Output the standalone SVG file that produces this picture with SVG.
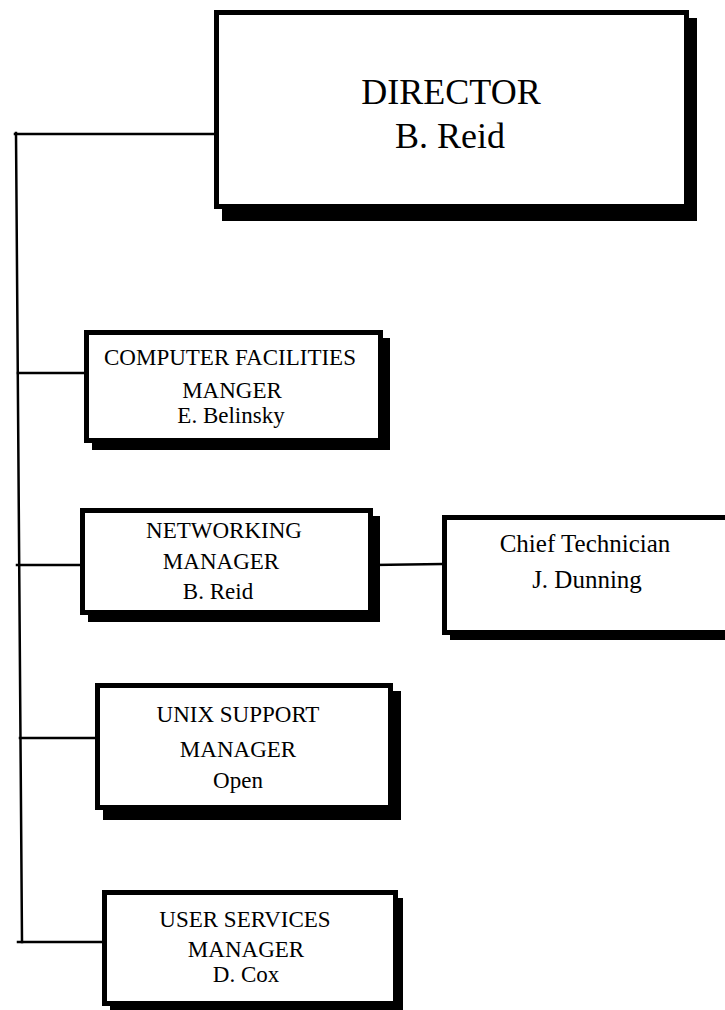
<svg xmlns="http://www.w3.org/2000/svg" width="725" height="1010" viewBox="0 0 725 1010">
<style>
.shadow{fill:#000}
.box{fill:#fff;stroke:#000;stroke-width:5}
.t{font-family:"Liberation Serif","Times New Roman",serif;fill:#000;text-anchor:middle;font-size:23px}
.big{font-size:36px}
.ct{font-size:25px}
.conn line{stroke:#000;stroke-width:2.5;stroke-linecap:square}
</style>
<rect width="725" height="1010" fill="#fff"/>
<g id="connectors" class="conn">
<line x1="16" y1="133" x2="22" y2="942"/>
<line x1="15" y1="134" x2="214" y2="134"/>
<line x1="18" y1="373" x2="84" y2="373"/>
<line x1="17" y1="565" x2="80" y2="565"/>
<line x1="373" y1="565" x2="442" y2="564"/>
<line x1="20" y1="738" x2="95" y2="738"/>
<line x1="18" y1="942" x2="102" y2="942"/>
</g>
<g id="director">
<rect class="shadow" x="222" y="18" width="475" height="203"/>
<rect class="box" x="216.5" y="12.5" width="470" height="194"/>
<text class="t big" x="451" y="104">DIRECTOR</text>
<text class="t big" x="450" y="148">B. Reid</text>
</g>
<g id="computer-facilities">
<rect class="shadow" x="92" y="338" width="298" height="112"/>
<rect class="box" x="86.5" y="332.5" width="294" height="108"/>
<text class="t" x="230" y="365">COMPUTER FACILITIES</text>
<text class="t" x="232" y="398">MANGER</text>
<text class="t" x="231" y="423">E. Belinsky</text>
</g>
<g id="networking">
<rect class="shadow" x="88" y="516" width="292" height="106"/>
<rect class="box" x="82.5" y="510.5" width="288" height="102"/>
<text class="t" x="224" y="538">NETWORKING</text>
<text class="t" x="221" y="569">MANAGER</text>
<text class="t" x="218" y="599">B. Reid</text>
</g>
<g id="chief-technician">
<rect class="shadow" x="450" y="523" width="300" height="117"/>
<rect class="box" x="444.5" y="517.5" width="300" height="115"/>
<text class="t ct" x="585" y="552">Chief Technician</text>
<text class="t ct" x="587" y="588">J. Dunning</text>
</g>
<g id="unix-support">
<rect class="shadow" x="103" y="691" width="298" height="129"/>
<rect class="box" x="97.5" y="685.5" width="293" height="122"/>
<text class="t" x="238" y="722">UNIX SUPPORT</text>
<text class="t" x="238" y="757">MANAGER</text>
<text class="t" x="238" y="788">Open</text>
</g>
<g id="user-services">
<rect class="shadow" x="110" y="898" width="293" height="112"/>
<rect class="box" x="104.5" y="892.5" width="291" height="111"/>
<text class="t" x="245" y="927">USER SERVICES</text>
<text class="t" x="246" y="957">MANAGER</text>
<text class="t" x="246" y="982">D. Cox</text>
</g>
</svg>
